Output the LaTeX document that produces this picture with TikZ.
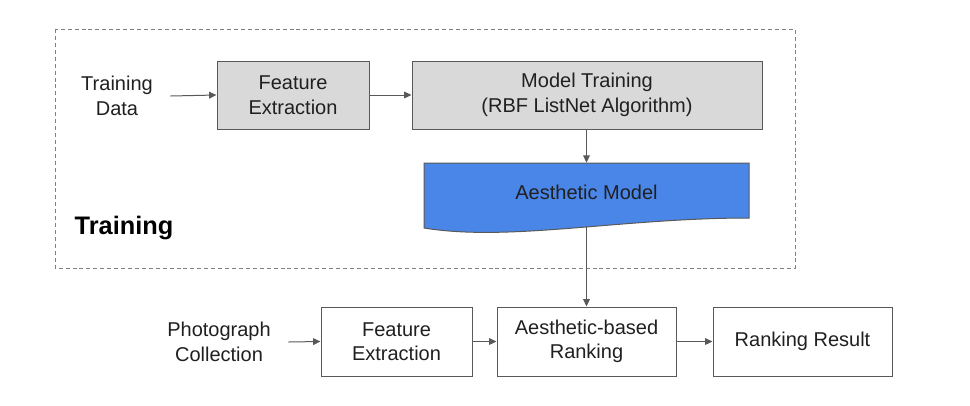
\documentclass[tikz,border=0pt]{standalone}
\usepackage{fontspec}
\setmainfont{Liberation Sans}
\usetikzlibrary{arrows.meta}
\definecolor{boxgray}{HTML}{D9D9D9}
\definecolor{edgegray}{HTML}{595959}
\definecolor{dashgray}{HTML}{808080}
\definecolor{amblue}{HTML}{4A86E8}
\definecolor{txt}{HTML}{202020}
\tikzset{
  lbl/.style={align=center, text=txt, font=\fontsize{15}{18.4}\selectfont},
  base/.style={lbl, draw=edgegray, line width=0.75pt, inner sep=0pt},
  graybox/.style={base, fill=boxgray},
  whitebox/.style={base, fill=white},
  plain/.style={lbl, inner xsep=13pt, inner ysep=0pt},
  conn/.style={draw=edgegray, line width=0.75pt, -{Triangle[length=5.5pt,width=5pt]}},
}
\begin{document}
\begin{tikzpicture}[x=0.75pt,y=-0.75pt]
\useasboundingbox (0,0) rectangle (970,405);
% training frame
\draw[dashgray, line width=0.75pt, dash pattern=on 3pt off 2.2pt] (55,29) rectangle (795,268);
\node[font=\bfseries\fontsize{19}{22}\selectfont, text=black, anchor=base, inner sep=0pt] (trl) at (124,234) {Training};
% top row
\node[plain] (td) at (117,96) {Training\\Data};
\node[graybox, minimum width=114pt, minimum height=51pt] (fe1) at (293,95) {Feature\\Extraction};
\node[graybox, minimum width=262.5pt, minimum height=51pt] (mt) at (587,95) {Model Training\\(RBF ListNet Algorithm)};
% aesthetic model (document shape)
\draw[fill=amblue, draw=edgegray, line width=0.75pt]
  (424,163) -- (749,163) -- (749,218)
  .. controls (620,218) and (510,242) .. (424,228) -- cycle;
\node[inner sep=0pt, minimum width=243.75pt, minimum height=48.75pt] (am) at (586.5,195.5) {};
\node[lbl, anchor=base, inner sep=0pt] (amt) at (586.5,199) {Aesthetic Model};
% bottom row
\node[plain] (pc) at (219,342) {Photograph\\Collection};
\node[whitebox, minimum width=113.25pt, minimum height=51.75pt] (fe2) at (396.5,341.5) {Feature\\Extraction};
\node[whitebox, minimum width=134.25pt, minimum height=51.75pt] (ar) at (586.5,341.5) {Aesthetic-based\\Ranking};
\node[whitebox, minimum width=134.25pt, minimum height=51.75pt] (rr) at (802.5,341.5) {Ranking Result};
% connectors
\draw[conn] (td.east) -- (fe1.west);
\draw[conn] (fe1.east) -- (mt.west |- fe1.east);
\draw[conn] (mt.south -| am.north) -- (am.north);
\draw[conn] ([yshift=2pt]am.south) -- (ar.north);
\draw[conn] (pc.east) -- (fe2.west);
\draw[conn] (fe2.east) -- (ar.west);
\draw[conn] (ar.east) -- (rr.west);
\end{tikzpicture}
\end{document}
